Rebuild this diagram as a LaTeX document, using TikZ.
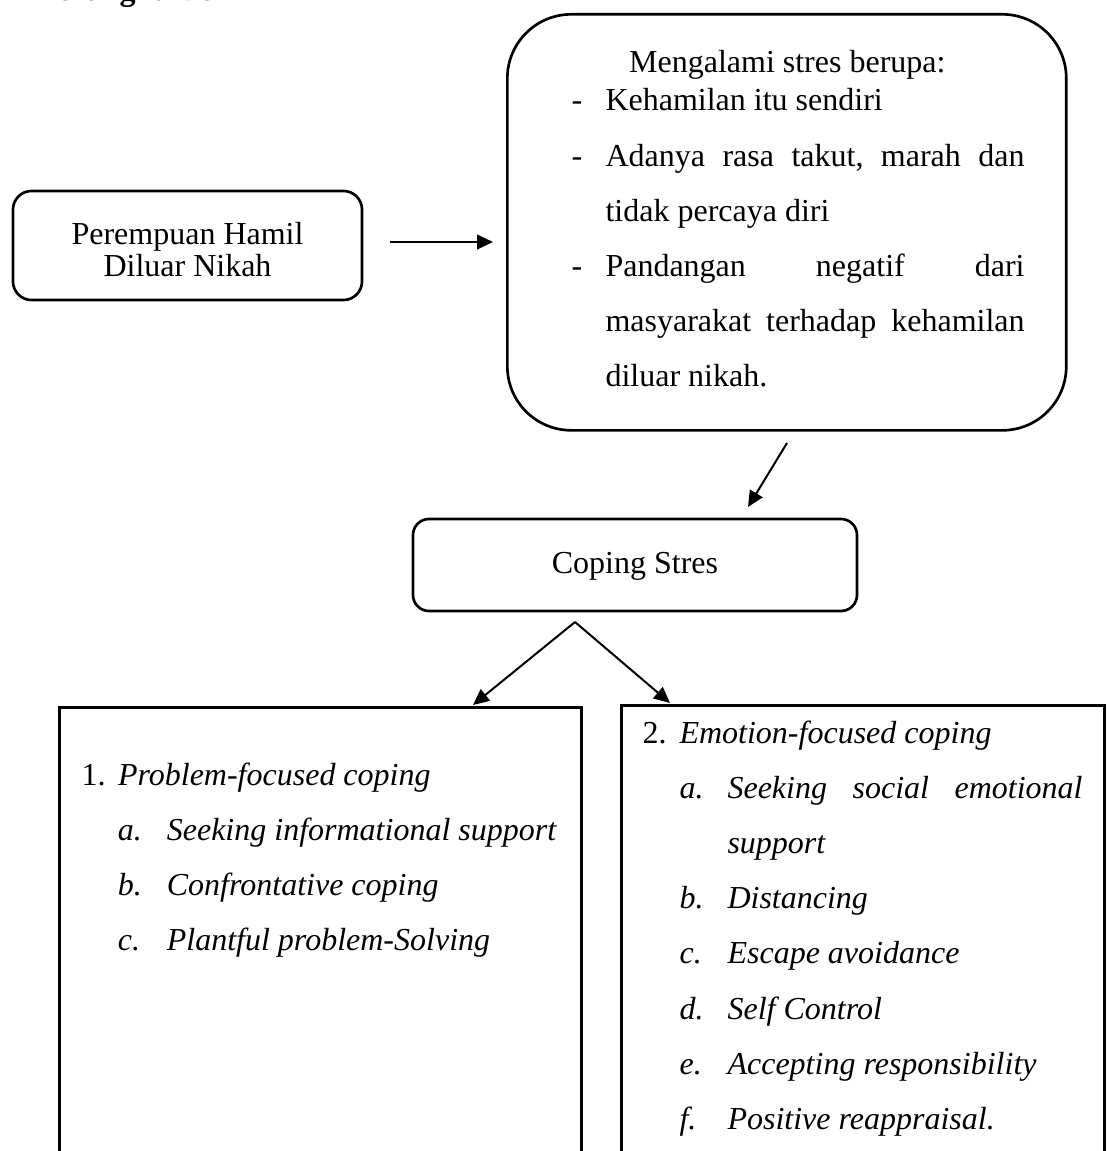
\documentclass[tikz,border=0pt]{standalone}
\usepackage{fontspec}
\setmainfont{Liberation Serif}
\usepackage{tikz}
\usetikzlibrary{arrows.meta}

\newcommand{\butir}[2]{\noindent\llap{\makebox[#1][l]{#2}}}

\begin{document}
\begin{tikzpicture}[x=0.375pt,y=-0.375pt,
		font=\fontsize{12}{12}\selectfont,
		kotak/.style={draw,line width=1pt,rounded corners=7pt,align=center,inner sep=0pt},
		kotakbesar/.style={draw,line width=1pt,rounded corners=24pt,inner sep=0pt,anchor=north west},
		kotaklist/.style={draw,line width=1.1pt,inner sep=0pt,anchor=north west},
		isi/.style={anchor=base west,inner sep=0pt,font=\fontsize{12}{20.7}\selectfont},
		panah/.style={line width=0.75pt,arrows={-Triangle[length=6pt,width=5.5pt]}}]
			\useasboundingbox (0,0) rectangle (1109,1151);
			\clip (0,0) rectangle (1109,1151);
			\node[anchor=base west,inner sep=0pt,font=\fontsize{12}{12}\selectfont\bfseries] (judul) at (32,0.5) {Kerangka Berfikir};
			\node[kotak,minimum width=130.9pt,minimum height=40.9pt] (hamil) at (187.5,245.5) {\rule{0pt}{11.6pt}Perempuan Hamil\\Diluar Nikah};
			\node[kotakbesar,minimum width=209.6pt,minimum height=156pt] (stres) at (506,13) {};
			\node[isi] (stresisi) at (571,73) {\parbox[t]{169.9pt}{%
				\hspace*{21.6pt}Mengalami stres berupa:\par\vspace{-6.45pt}
				\leftskip=12.75pt
				\butir{12.75pt}{-}Kehamilan itu sendiri\par
				\butir{12.75pt}{-}Adanya\hfill rasa\hfill takut,\hfill marah\hfill dan\\tidak percaya diri\par
				\butir{12.75pt}{-}Pandangan\hfill negatif\hfill dari\\masyarakat\hfill terhadap\hfill kehamilan\\diluar nikah.\par}};
			\node[kotak,minimum width=166.5pt,minimum height=34.5pt,rounded corners=6pt] (coping) at (635,565) {\rule{0pt}{9pt}Coping Stres};
			\node[kotaklist,minimum width=195.75pt,minimum height=180pt] (masalah) at (58,706) {};
			\node[kotaklist,minimum width=181.1pt,minimum height=180pt] (emosi) at (620,704) {};
			\node[isi] (masalahisi) at (81,785) {\parbox[t]{190pt}{%
				\makebox[13.7pt][l]{1.}\textit{Problem-focused coping}\par
				\leftskip=32pt\itshape
				\butir{18.4pt}{a.}Seeking informational support\par
				\butir{18.4pt}{b.}Confrontative coping\par
				\butir{18.4pt}{c.}Plantful problem-Solving\par}};
			\node[isi] (emosiisi) at (642,743) {\parbox[t]{165pt}{%
				\makebox[13.875pt][l]{2.}\textit{Emotion-focused coping}\par
				\leftskip=31.875pt\itshape
				\butir{18pt}{a.}Seeking\hfill social\hfill emotional\\support\par
				\butir{18pt}{b.}Distancing\par
				\butir{18pt}{c.}Escape avoidance\par
				\butir{18pt}{d.}Self Control\par
				\butir{18pt}{e.}Accepting responsibility\par
				\butir{18pt}{f.}Positive reappraisal.\par}};
			\coordinate (h1) at (390,242);
			\coordinate (h2) at (493,242);
			\coordinate (s1) at (787,443);
			\coordinate (s2) at (748,507);
			\coordinate (c0) at (575,622);
			\coordinate (c1) at (473,705);
			\coordinate (c2) at (670,703);
			\draw[panah] (h1) -- (h2);
			\draw[panah] (s1) -- (s2);
			\draw[panah] (c0) -- (c1);
			\draw[panah] (c0) -- (c2);
		\end{tikzpicture}
\end{document}
